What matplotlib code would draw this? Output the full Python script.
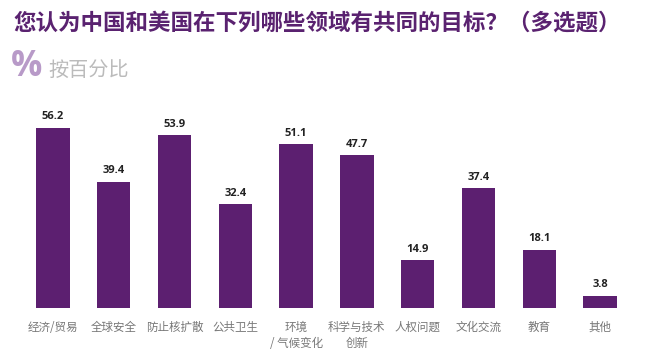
import matplotlib
matplotlib.use("Agg")
import matplotlib.pyplot as plt

plt.rcParams['font.family'] = ['Noto Sans CJK SC', 'DejaVu Sans']

# data
categories = ['经济/贸易', '全球安全', '防止核扩散', '公共卫生', '环境\n/ 气候变化',
              '科学与技术\n创新', '人权问题', '文化交流', '教育', '其他']
values = [56.2, 39.4, 53.9, 32.4, 51.1, 47.7, 14.9, 37.4, 18.1, 3.8]

title = '您认为中国和美国在下列哪些领域有共同的目标？（多选题）'
subtitle = '按百分比'

bar_color = '#5c1f70'
title_color = '#5a2270'

fig = plt.figure(figsize=(6.46, 3.61), dpi=100)
ax = fig.add_axes([0.035, 0.1468, 0.9409, 0.532])

x = range(len(values))
bars = ax.bar(x, values, width=0.55, color=bar_color)

for xi, v in zip(x, values):
    ax.text(xi, v + 1.8, f'{v:.1f}', ha='center', va='bottom',
            fontsize=8, fontweight='bold', color='#222222',
            family=['Open Sans', 'DejaVu Sans'])

ax.set_xlim(-0.5, len(values) - 0.5)
ax.set_ylim(0, 60)
ax.set_xticks(list(x))
ax.set_xticklabels(categories, fontsize=8.3, color='#777777', linespacing=1.3)
ax.tick_params(axis='x', length=0, pad=9)
ax.set_yticks([])
for s in ax.spines.values():
    s.set_visible(False)

fig.text(13 / 646, 1 - 23 / 361, title, fontsize=16.2, fontweight='bold',
         color=title_color, ha='left', va='center')
fig.text(11 / 646, 1 - 67 / 361, '%', fontsize=25, fontweight='bold',
         color='#b89ac8', ha='left', va='center',
         family=['Open Sans', 'DejaVu Sans'])
fig.text(48 / 646, 1 - 70 / 361, subtitle, fontsize=14.5,
         color='#bbbbbb', ha='left', va='center')

fig.savefig('out.png', dpi=100)
